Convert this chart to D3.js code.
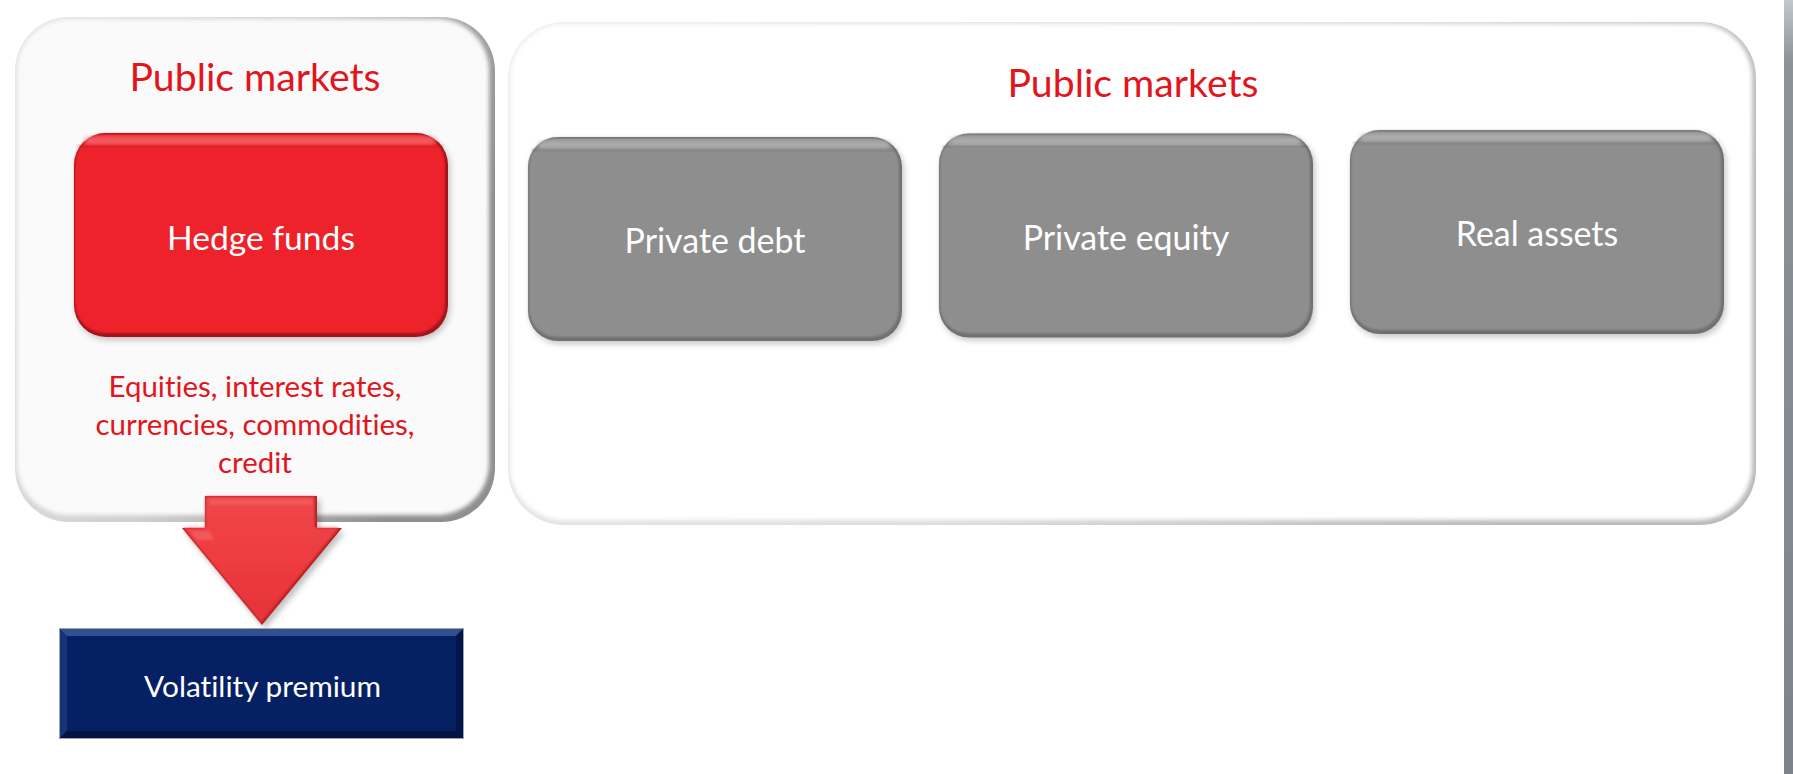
<!DOCTYPE html>
<html><head><meta charset="utf-8">
<script src="https://cdn.jsdelivr.net/npm/d3@7"></script>
<style>html,body{margin:0;padding:0;background:#fff;overflow:hidden}
text{font-variant-ligatures:none;font-feature-settings:"liga" 0,"clig" 0}</style>
</head><body>
<svg id="c" width="1793" height="774"></svg>
<script>
// ---- content ----
const panelTitles = ["Public markets", "Public markets"];
const hedgeLabel = ["Hedge funds"];
const hedgeDetail = ["Equities, interest rates,", "currencies, commodities,", "credit"];
const privateAssets = ["Private debt", "Private equity", "Real assets"];
const outcome = ["Volatility premium"];

// ---- layout ----
const W = 1793, H = 774;
const FONT = "Lato, 'Open Sans', sans-serif";
const RED_TEXT = "#E2151D";
const svg = d3.select("#c");
const defs = svg.append("defs");

function blur(id, sd){ defs.append("filter").attr("id", id).attr("x","-10%").attr("y","-10%").attr("width","120%").attr("height","120%")
  .append("feGaussianBlur").attr("stdDeviation", sd); }
blur("b1", 1.2); blur("b2", 2); blur("b3", 3); blur("b4", 4);
function lin(id, stops, x2=0, y2=1, x1=0, y1=0){
  const g = defs.append("linearGradient").attr("id", id).attr("x1",x1).attr("y1",y1).attr("x2",x2).attr("y2",y2);
  stops.forEach(s => g.append("stop").attr("offset", s[0]).attr("stop-color", s[1]));
}
lin("gPanelL", [[0,"#e4e4e4"],[0.55,"#cfcfcf"],[1,"#8f8f8f"]], 1, 0.35);
lin("gPanelR", [[0,"#ececec"],[0.6,"#dcdcdc"],[1,"#b9b9b9"]], 1, 0.3);
lin("gArrow", [[0,"#F0474B"],[0.6,"#EC3A3E"],[1,"#E5343A"]], 0, 1);
lin("gStrip", [[0,"#c3c8cd"],[0.08,"#8b9298"],[1,"#7c838b"]], 0, 1);

function panel(x, y, w, h, r, grad, inset, fillInner){
  const g = svg.append("g");
  g.append("rect").attr("x",x).attr("y",y).attr("width",w).attr("height",h).attr("rx",r).attr("fill",`url(#${grad})`);
  g.append("rect").attr("x",x+inset[0]).attr("y",y+inset[1]).attr("width",w-inset[0]-inset[2]).attr("height",h-inset[1]-inset[3])
    .attr("rx",r-2).attr("fill",fillInner).attr("filter","url(#b2)");
  return g;
}
function bevelBox(x, y, w, h, r, c){
  const g = svg.append("g");
  g.append("rect").attr("x",x+2).attr("y",y+3).attr("width",w).attr("height",h).attr("rx",r).attr("fill","#000").attr("opacity",0.22).attr("filter","url(#b3)");
  g.append("rect").attr("x",x).attr("y",y).attr("width",w).attr("height",h).attr("rx",r).attr("fill",c.dark);
  g.append("rect").attr("x",x+1).attr("y",y+1).attr("width",w-4).attr("height",h-5).attr("rx",r-2).attr("fill",c.main).attr("filter","url(#b1)");
  g.append("rect").attr("x",x+10).attr("y",y+3).attr("width",w-22).attr("height",9).attr("rx",5).attr("fill",c.hi).attr("opacity",0.55).attr("filter","url(#b2)");
  g.append("rect").attr("x",x+3).attr("y",y+12).attr("width",w-8).attr("height",2).attr("fill",c.line).attr("opacity",0.35).attr("filter","url(#b1)");
  return g;
}

// right edge strip
svg.append("rect").attr("x",1784).attr("y",0).attr("width",9).attr("height",H).attr("fill","url(#gStrip)");

// panels
panel(15, 17, 480, 505, 54, "gPanelL", [2,2,6,7], "#FAFAFA");
panel(508, 22, 1248, 503, 56, "gPanelR", [2,2,4,5], "#FFFFFF");

// panel titles
const titlePos = [[255, 91], [1133, 97]];
const titles = svg.selectAll("text.title").data(panelTitles).join("text").attr("class","title")
  .attr("x",(d,i)=>titlePos[i][0]).attr("y",(d,i)=>titlePos[i][1])
  .attr("text-anchor","middle").attr("font-family",FONT).attr("font-size",39).attr("fill",RED_TEXT).text(d=>d);

// hedge funds box
const hedge = {x:74, y:133, w:374, h:204};
bevelBox(hedge.x, hedge.y, hedge.w, hedge.h, 32, {dark:"#A3141A", main:"#EE2129", hi:"#F8878A", line:"#B0151B"});
const hedgeText = svg.selectAll("text.hedge").data(hedgeLabel).join("text").attr("class","hedge")
  .attr("x", hedge.x + hedge.w/2).attr("y", 250)
  .attr("text-anchor","middle").attr("font-family",FONT).attr("font-size",34).attr("fill","#fff").text(d=>d);

// detail lines
const yDetail = d3.scalePoint().domain(hedgeDetail).range([397, 473]);
const detail = svg.selectAll("text.detail").data(hedgeDetail).join("text").attr("class","detail")
  .attr("x",255).attr("y",d=>yDetail(d))
  .attr("text-anchor","middle").attr("font-family",FONT).attr("font-size",29).attr("fill",RED_TEXT).text(d=>d);

// private boxes
const xPriv = d3.scaleBand().domain(privateAssets).range([528, 1724]).paddingInner(0.09);
const yPriv = d3.scaleLinear().domain([0, privateAssets.length-1]).range([137, 130]);
const privH = 204;
privateAssets.forEach((d,i)=>{
  bevelBox(xPriv(d), yPriv(i), xPriv.bandwidth(), privH, 30, {dark:"#707070", main:"#8E8E8E", hi:"#C4C4C4", line:"#6a6a6a"});
});
const privText = svg.selectAll("text.priv").data(privateAssets).join("text").attr("class","priv")
  .attr("x",d=>xPriv(d)+xPriv.bandwidth()/2).attr("y",(d,i)=>yPriv(i)+116)
  .attr("text-anchor","middle").attr("font-family",FONT).attr("font-size",34).attr("fill","#fff").text(d=>d);

// arrow
const arrowPts = [[205,496],[317,496],[317,528],[342,528],[262,625],[182,528],[205,528]];
const line = d3.line().curve(d3.curveLinearClosed);
svg.append("path").attr("d",line(arrowPts)).attr("transform","translate(3,4)").attr("fill","#000").attr("opacity",0.25).attr("filter","url(#b3)");
svg.append("path").attr("d",line(arrowPts)).attr("fill","#B81E22");
svg.append("path").attr("d",line(arrowPts)).attr("fill","url(#gArrow)").attr("transform","translate(261,560) scale(0.975) translate(-262,-561)").attr("filter","url(#b1)");
// wing highlights
svg.append("path").attr("d",line([[190,531],[210,531],[214,540],[197,540]])).attr("fill","#F46F72").attr("opacity",0.5).attr("filter","url(#b1)");
svg.append("path").attr("d",line([[210,499],[312,499],[312,505],[210,505]])).attr("fill","#F46F72").attr("opacity",0.45).attr("filter","url(#b1)");

// volatility premium box
const vol = {x:60, y:629, w:403, h:109}, bv = 7;
svg.append("rect").attr("x",vol.x-1).attr("y",vol.y-1).attr("width",vol.w+2).attr("height",vol.h+2).attr("fill","#9aa3b5");
svg.append("rect").attr("x",vol.x).attr("y",vol.y).attr("width",vol.w).attr("height",vol.h).attr("fill","#062163");
const vx0=vol.x, vy0=vol.y, vx1=vol.x+vol.w, vy1=vol.y+vol.h;
svg.append("path").attr("d",line([[vx0,vy0],[vx1,vy0],[vx1-bv,vy0+bv],[vx0+bv,vy0+bv]])).attr("fill","#3D5B9A").attr("opacity",0.8);
svg.append("path").attr("d",line([[vx0,vy0],[vx0+bv,vy0+bv],[vx0+bv,vy1-bv],[vx0,vy1]])).attr("fill","#1B377A").attr("opacity",0.8);
svg.append("path").attr("d",line([[vx1,vy0],[vx1,vy1],[vx1-bv,vy1-bv],[vx1-bv,vy0+bv]])).attr("fill","#031648");
svg.append("path").attr("d",line([[vx0,vy1],[vx1,vy1],[vx1-bv,vy1-bv],[vx0+bv,vy1-bv]])).attr("fill","#02143F");
const volText = svg.selectAll("text.vol").data(outcome).join("text").attr("class","vol")
  .attr("x", vol.x + vol.w/2 + 1).attr("y", 697)
  .attr("text-anchor","middle").attr("font-family",FONT).attr("font-size",29).attr("fill","#fff").text(d=>d);

// fit text groups to the widths
function fitGroup(sel, targets){
  let ratio = 0;
  sel.each(function(d,i){ ratio += targets[i] / this.getComputedTextLength(); });
  ratio /= sel.size();
  sel.each(function(){ const fs = parseFloat(this.getAttribute("font-size")); this.setAttribute("font-size", (fs*ratio).toFixed(2)); });
}
fitGroup(titles, [250, 252]);
fitGroup(hedgeText, [188]);
fitGroup(detail, [294, 322, 73]);
fitGroup(privText, [182, 206, 162]);
fitGroup(volText, [237]);
</script>
</body></html>
